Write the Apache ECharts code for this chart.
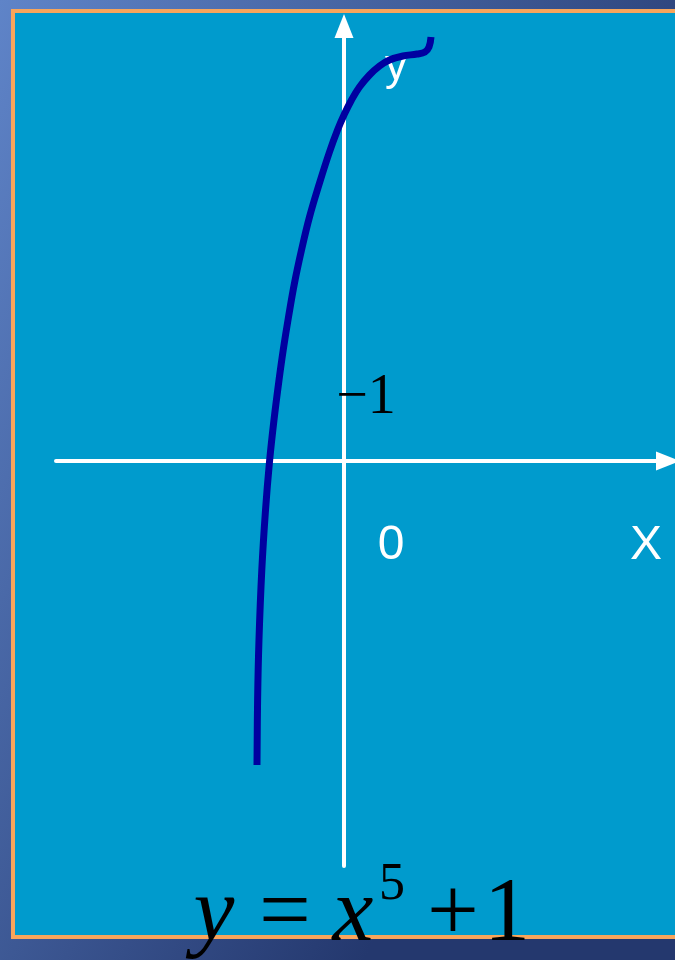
<!DOCTYPE html>
<html>
<head>
<meta charset="utf-8">
<title>y = x^5 + 1</title>
<script src="https://cdn.jsdelivr.net/npm/echarts@6/dist/echarts.min.js"></script>
<style>
  html, body { margin: 0; padding: 0; }
  #chart { width: 675px; height: 960px; }
</style>
</head>
<body>
<div id="chart"></div>
<script>
// Hand-sketched curve of y = x^5 + 1 (points along the drawn stroke)
const curveX = [-1.45, -1.44, -1.417, -1.37, -1.308, -1.242, -1.167, -1.083, -1.013, -0.925, -0.825, -0.708, -0.575, -0.408, -0.242, -0.108, 0, 0.125, 0.258, 0.425, 0.592, 0.758, 0.983, 1.217, 1.35, 1.417, 1.45];
const curveY = [-5.067, -3.983, -2.983, -1.817, -0.817, -0.017, 0.683, 1.35, 1.85, 2.4, 2.967, 3.517, 4.067, 4.633, 5.15, 5.517, 5.767, 6.017, 6.233, 6.433, 6.583, 6.683, 6.75, 6.783, 6.817, 6.9, 7.067];

// Axis extents and labels
const xRange = [-4.8, 5.4];
const yRange = [-6.75, 7.25];
const yTickText = '\u22121';
const originText = '0';
const xAxisName = 'X';
const yAxisName = 'y';

const curveData = curveX.map((x, i) => [x, curveY[i]]);

const chart = echarts.init(document.getElementById('chart'), null, { renderer: 'canvas' });

const axisLine = {
  show: true,
  onZero: true,
  symbol: ['none', 'triangle'],
  symbolSize: [19, 24],
  lineStyle: { color: '#ffffff', width: 4 }
};

const serif = '"Liberation Serif", "Times New Roman", serif';
const sans = '"Liberation Sans", Arial, sans-serif';

chart.setOption({
  animation: false,
  backgroundColor: {
    type: 'linear', x: 0, y: 0, x2: 1, y2: 0.35,
    colorStops: [
      { offset: 0, color: '#5F84C8' },
      { offset: 1, color: '#24386E' }
    ]
  },
  grid: { left: 56, right: 7, top: 26, bottom: 94 },
  xAxis: {
    type: 'value', min: xRange[0], max: xRange[1],
    axisLine: axisLine,
    axisTick: { show: false }, axisLabel: { show: false }, splitLine: { show: false }
  },
  yAxis: {
    type: 'value', min: yRange[0], max: yRange[1],
    axisLine: axisLine,
    axisTick: { show: false }, axisLabel: { show: false }, splitLine: { show: false }
  },
  graphic: [
    // panel with orange frame
    { type: 'rect', z: -10, shape: { x: 13, y: 11, width: 720, height: 926 },
      style: { fill: '#009BCD', stroke: '#F8A55B', lineWidth: 4 } },
    // axis annotations
    { type: 'text', z: 1, style: { text: yAxisName, x: 396, y: 68, font: '44px ' + sans, fill: '#ffffff', textAlign: 'center', textVerticalAlign: 'middle' } },
    { type: 'text', z: 10, style: { text: yTickText, x: 366, y: 398, font: '56px ' + serif, fill: '#000000', textAlign: 'center', textVerticalAlign: 'middle' } },
    { type: 'text', z: 10, style: { text: originText, x: 391, y: 546, font: '48px ' + sans, fill: '#ffffff', textAlign: 'center', textVerticalAlign: 'middle' } },
    { type: 'text', z: 10, style: { text: xAxisName, x: 646, y: 546, font: '48px ' + sans, fill: '#ffffff', textAlign: 'center', textVerticalAlign: 'middle' } },
    // formula
    { type: 'text', z: 10, style: { text: 'y', x: 214, y: 916, font: 'italic 92px ' + serif, fill: '#000000', textAlign: 'center', textVerticalAlign: 'middle' } },
    { type: 'text', z: 10, style: { text: '=', x: 285, y: 916, font: '92px ' + serif, fill: '#000000', textAlign: 'center', textVerticalAlign: 'middle' } },
    { type: 'text', z: 10, style: { text: 'x', x: 353, y: 916, font: 'italic 92px ' + serif, fill: '#000000', textAlign: 'center', textVerticalAlign: 'middle' } },
    { type: 'text', z: 10, style: { text: '5', x: 392, y: 885, font: '52px ' + serif, fill: '#000000', textAlign: 'center', textVerticalAlign: 'middle' } },
    { type: 'text', z: 10, style: { text: '+', x: 453, y: 916, font: '92px ' + serif, fill: '#000000', textAlign: 'center', textVerticalAlign: 'middle' } },
    { type: 'text', z: 10, style: { text: '1', x: 507, y: 916, font: '92px ' + serif, fill: '#000000', textAlign: 'center', textVerticalAlign: 'middle' } }
  ],
  series: [{
    type: 'line',
    data: curveData,
    smooth: 0.4,
    showSymbol: false,
    z: 5,
    lineStyle: { color: '#0000A0', width: 7, cap: 'butt' }
  }]
});
</script>
</body>
</html>
